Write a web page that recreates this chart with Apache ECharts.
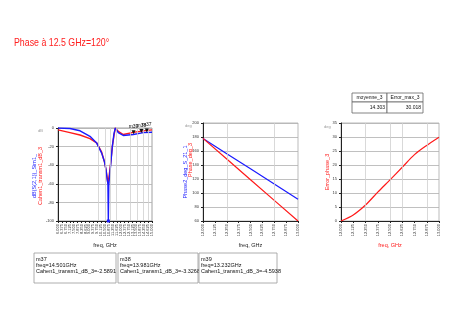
<!DOCTYPE html>
<html><head><meta charset="utf-8">
<script src="https://cdn.jsdelivr.net/npm/echarts@6/dist/echarts.min.js"></script>
<style>html,body{margin:0;padding:0;background:#fff}#c{width:453px;height:334px}</style>
</head><body><div id="c"></div>
<script>
// ---- Data ----
const freq1 = [6.0, 7.15, 8.11, 9.06, 9.70, 10.18, 10.44, 10.60, 10.72, 10.78, 10.82, 10.86, 10.91, 11.04, 11.20, 11.36, 11.49, 11.77, 12.25, 13.21, 14.17, 15.0];
const blue1 = [0, -0.5, -3, -9, -16, -27, -36, -45, -56, -60, -100, -62, -55, -40, -20, -6, 0, -5, -8, -7, -5, -4.5];
const red1  = [-2, -5, -7.5, -11.5, -16, -26, -36, -45, -55, -60, -62, -58, -50, -38, -20, -8, 0, -3.6, -7, -4.7, -3.1, -2.0];
const markerNames = ['m39', 'm38', 'm37'];
const markerFreqs = [13.232, 13.981, 14.501];
const markerVals = [-4.5938, -3.3268, -2.5891];

const freq2 = [12.0, 12.25, 12.5, 12.75, 13.0];
const blue2 = [178, 156, 134.5, 113, 91];
const red2  = [178, 148.5, 119, 89.5, 60];

const freq3 = [12.0, 12.125, 12.25, 12.375, 12.5, 12.625, 12.75, 12.875, 13.0];
const err3  = [0, 2.15, 5.7, 10.3, 14.7, 19.2, 23.7, 27.0, 29.9];

const gridFreqs1 = [9.9, 10.5, 11.0, 11.6, 12.9, 13.6, 14.2, 14.6];
const gridFreqs2 = [12.25, 12.75];
const gridFreqs3 = [12.25, 12.5, 12.625, 12.875];

const tableHeads = ['moyenne_3', 'Error_max_3'];
const tableVals = ['14.303', '30.018'];
const title = 'Phase à 12.5 GHz=120°';

const FONT = '"Liberation Sans", Arial, sans-serif';
const BLUE = '#1a1aff', RED = '#ff1a1a';

function pairs(xs, ys) { return xs.map((x, i) => [x, ys[i]]); }
function vlines(fs) {
  return { silent: true, symbol: 'none', label: { show: false },
    lineStyle: { color: '#cfcfcf', width: 0.8, type: 'solid' },
    data: fs.map(f => ({ xAxis: f })) };
}
const axisLab = { fontSize: 4, color: '#333', fontFamily: FONT };
function xAx(idx, min, max, interval, dec, nameColor) {
  return { gridIndex: idx, type: 'value', min, max, interval,
    name: 'freq, GHz', nameLocation: 'middle', nameGap: 21,
    nameTextStyle: { fontSize: 5.5, color: nameColor, fontFamily: FONT },
    axisLine: { onZero: false, lineStyle: { color: '#222', width: 1 } },
    axisTick: { show: true, length: 2, lineStyle: { color: '#222' } },
    axisLabel: Object.assign({ rotate: 90, margin: 3, formatter: v => v.toFixed(dec) }, axisLab),
    splitLine: { show: false } };
}
function yAx(idx, min, max, interval) {
  return { gridIndex: idx, type: 'value', min, max, interval,
    axisLine: { show: true, onZero: false, lineStyle: { color: '#222', width: 1 } },
    axisTick: { show: true, length: 2, lineStyle: { color: '#222' } },
    axisLabel: Object.assign({ margin: 4 }, axisLab),
    splitLine: { show: true, lineStyle: { color: '#b0b0b0', width: 0.8 } } };
}

const chart = echarts.init(document.getElementById('c'), null, { renderer: 'canvas' });

const markerData = markerNames.map((n, i) => ({ name: n, coord: [markerFreqs[i], markerVals[i]] }));

// marker boxes
const boxes = [[34, 82], [118, 80], [199, 78]];
const boxGraphics = [];
markerNames.slice().reverse().forEach((n, i) => {
  const j = markerNames.length - 1 - i;
  const [bx, bw] = boxes[i];
  boxGraphics.push({ type: 'rect', shape: { x: bx, y: 253, width: bw, height: 30 },
    style: { fill: '#fff', stroke: '#999', lineWidth: 0.8 } });
  boxGraphics.push({ type: 'text', x: bx + 2, y: 256,
    style: { text: n + '\nfreq=' + markerFreqs[j].toFixed(3) + 'GHz\nCahen1_transm1_dB_3=' + markerVals[j].toFixed(4),
      fontSize: 5.5, lineHeight: 6, fill: '#111', fontFamily: FONT } });
});

const option = {
  animation: false,
  backgroundColor: '#fff',
  grid: [
    { left: 58, top: 128, width: 94, height: 93, show: true, borderColor: '#888', borderWidth: 0.8 },
    { left: 203, top: 123, width: 95, height: 98, show: true, borderColor: '#aaa', borderWidth: 0.8 },
    { left: 341, top: 123, width: 98, height: 98, show: true, borderColor: '#aaa', borderWidth: 0.8 }
  ],
  xAxis: [
    xAx(0, 6, 15, 0.375, 3, '#222'),
    xAx(1, 12, 13, 0.125, 3, '#222'),
    xAx(2, 12, 13, 0.125, 3, RED)
  ],
  yAxis: [ yAx(0, -100, 0, 20), yAx(1, 60, 200, 20), yAx(2, 0, 35, 5) ],
  series: [
    { type: 'line', xAxisIndex: 0, yAxisIndex: 0, data: pairs(freq1, red1), symbol: 'none',
      lineStyle: { color: RED, width: 1.4 }, color: RED, z: 3,
      markLine: vlines(gridFreqs1),
      markPoint: { symbol: 'triangle', symbolSize: 4, symbolRotate: 180, itemStyle: { color: '#111' },
        label: { show: true, position: 'top', distance: 1, formatter: p => p.name, fontSize: 5, color: '#111', fontFamily: FONT },
        data: markerData } },
    { type: 'line', xAxisIndex: 0, yAxisIndex: 0, data: pairs(freq1, blue1), symbol: 'none',
      lineStyle: { color: BLUE, width: 1.4 }, color: BLUE, z: 4,
      markPoint: { symbol: 'rect', symbolSize: 3, itemStyle: { color: BLUE }, label: { show: false },
        data: [{ type: 'min' }] } },
    { type: 'line', xAxisIndex: 1, yAxisIndex: 1, data: pairs(freq2, blue2), symbol: 'none',
      lineStyle: { color: BLUE, width: 1.2 }, color: BLUE, markLine: vlines(gridFreqs2) },
    { type: 'line', xAxisIndex: 1, yAxisIndex: 1, data: pairs(freq2, red2), symbol: 'none',
      lineStyle: { color: RED, width: 1.2 }, color: RED },
    { type: 'line', xAxisIndex: 2, yAxisIndex: 2, data: pairs(freq3, err3), symbol: 'none', smooth: 0.3,
      lineStyle: { color: RED, width: 1.2 }, color: RED, markLine: vlines(gridFreqs3) }
  ],
  graphic: [
    // title
    { type: 'text', x: 14, y: 37, scaleX: 0.8, style: { text: title, fontSize: 11, fill: '#ff2020', fontFamily: FONT } },
    // y axis names
    { type: 'text', x: 34, y: 176, rotation: Math.PI / 2, style: { text: 'dB(S(2,1))_Sim1_', fontSize: 5.5, fill: BLUE, fontFamily: FONT, align: 'center', verticalAlign: 'middle' } },
    { type: 'text', x: 40, y: 176, rotation: Math.PI / 2, style: { text: 'Cahen1_transm1_dB_3', fontSize: 5.5, fill: RED, fontFamily: FONT, align: 'center', verticalAlign: 'middle' } },
    { type: 'text', x: 185, y: 172, rotation: Math.PI / 2, style: { text: 'Phase2_deg_S_21_1', fontSize: 5.5, fill: BLUE, fontFamily: FONT, align: 'center', verticalAlign: 'middle' } },
    { type: 'text', x: 190, y: 160, rotation: Math.PI / 2, style: { text: 'Phase_deg_3', fontSize: 5.5, fill: RED, fontFamily: FONT, align: 'center', verticalAlign: 'middle' } },
    { type: 'text', x: 327, y: 172, rotation: Math.PI / 2, style: { text: 'Error_phase_3', fontSize: 5.5, fill: RED, fontFamily: FONT, align: 'center', verticalAlign: 'middle' } },
    // unit hints
    { type: 'text', x: 38, y: 129, style: { text: 'dB', fontSize: 4, fill: '#999', fontFamily: FONT } },
    { type: 'text', x: 185, y: 124, style: { text: 'deg', fontSize: 4, fill: '#999', fontFamily: FONT } },
    { type: 'text', x: 324, y: 125, style: { text: 'deg', fontSize: 4, fill: '#999', fontFamily: FONT } },
    // table
    { type: 'rect', shape: { x: 352, y: 93, width: 35, height: 9 }, style: { fill: '#fff', stroke: '#666', lineWidth: 0.8 } },
    { type: 'rect', shape: { x: 387, y: 93, width: 36, height: 9 }, style: { fill: '#fff', stroke: '#666', lineWidth: 0.8 } },
    { type: 'rect', shape: { x: 352, y: 102, width: 35, height: 11 }, style: { fill: '#fff', stroke: '#666', lineWidth: 0.8 } },
    { type: 'rect', shape: { x: 387, y: 102, width: 36, height: 11 }, style: { fill: '#fff', stroke: '#666', lineWidth: 0.8 } },
    { type: 'text', x: 369.5, y: 97.5, style: { text: tableHeads[0], fontSize: 5, fill: '#111', fontFamily: FONT, align: 'center', verticalAlign: 'middle' } },
    { type: 'text', x: 405, y: 97.5, style: { text: tableHeads[1], fontSize: 5, fill: '#111', fontFamily: FONT, align: 'center', verticalAlign: 'middle' } },
    { type: 'text', x: 385, y: 107.5, style: { text: tableVals[0], fontSize: 5, fill: '#111', fontFamily: FONT, align: 'right', verticalAlign: 'middle' } },
    { type: 'text', x: 421, y: 107.5, style: { text: tableVals[1], fontSize: 5, fill: '#111', fontFamily: FONT, align: 'right', verticalAlign: 'middle' } }
  ].concat(boxGraphics)
};
chart.setOption(option);
</script>
</body></html>
